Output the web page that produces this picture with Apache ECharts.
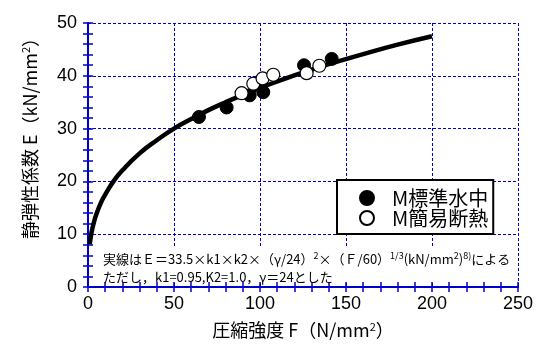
<!DOCTYPE html>
<html>
<head>
<meta charset="utf-8">
<script src="https://cdn.jsdelivr.net/npm/echarts@6/dist/echarts.min.js"></script>
<style>html,body{margin:0;padding:0;background:#fff}#c{width:542px;height:345px}</style>
</head>
<body>
<div id="c"></div>
<script>
// Data
const seriesNames = ['M標準水中', 'M簡易断熱'];
const stdF = [64.5, 80.6, 94.0, 101.9, 125.6, 141.7];
const stdE = [32.2, 34.0, 36.3, 36.9, 42.0, 43.2];
const insF = [89.3, 96.1, 101.5, 107.7, 127.1, 134.5];
const insE = [36.7, 38.5, 39.5, 40.2, 40.5, 41.9];
// solid line E = 33.5*k1*k2*(γ/24)^2*(F/60)^(1/3)
const curveF = [1, 2, 3, 5, 8, 10, 15, 20, 30, 40, 50, 60, 70, 80, 90, 100, 120, 140, 160, 180, 200];
const curveE = [8.1, 10.2, 11.7, 13.9, 16.3, 17.5, 20.1, 22.1, 25.3, 27.8, 30.0, 31.8, 33.5, 35.0, 36.4, 37.7, 40.1, 42.2, 44.1, 45.9, 47.5];
const xTicks = [0, 50, 100, 150, 200, 250];
const yTicks = [0, 10, 20, 30, 40, 50];

const BLUE = '#0000cc';
const JP = "'Noto Sans CJK JP', sans-serif";
const NUM = "'Liberation Sans', sans-serif";
const zip = (a, b) => a.map((v, i) => [v, b[i]]);

function axisCommon() {
  return {
    axisLine: { show: true, lineStyle: { color: BLUE, width: 2 } },
    axisTick: { show: true, inside: true, length: 5, lineStyle: { color: BLUE, width: 1.5 } },
    minorTick: { show: true, splitNumber: 5, length: 5, lineStyle: { color: BLUE, width: 1.5 } }
  };
}
const chart = echarts.init(document.getElementById('c'));
chart.setOption({
  animation: false,
  backgroundColor: '#fff',
  grid: { left: 88, top: 23, right: 24, bottom: 58 },
  xAxis: [
    Object.assign({
      type: 'value', min: xTicks[0], max: xTicks[xTicks.length - 1], interval: 50,
      axisLabel: { color: '#000', fontSize: 18, fontFamily: NUM, margin: 8 },
      splitLine: { show: true, lineStyle: { color: BLUE, type: [3, 2], width: 1 } },
      name: '圧縮強度 F（N/mm{s|2}）', nameLocation: 'middle', nameGap: 34,
      nameTextStyle: { color: '#000', fontSize: 18, fontFamily: JP, rich: { s: { fontSize: 11, fontFamily: JP, padding: [0, 0, 8, 0] } } }
    }, axisCommon()),
    Object.assign({
      type: 'value', min: xTicks[0], max: xTicks[xTicks.length - 1], interval: 50, position: 'top',
      axisLabel: { show: false }, splitLine: { show: false }
    }, axisCommon())
  ],
  yAxis: [
    Object.assign({
      type: 'value', min: yTicks[0], max: yTicks[yTicks.length - 1], interval: 10,
      axisLabel: { color: '#000', fontSize: 18, fontFamily: NUM, margin: 11 },
      splitLine: { show: true, lineStyle: { color: BLUE, type: [3, 2], width: 1 } }
    }, axisCommon()),
    Object.assign({
      type: 'value', min: yTicks[0], max: yTicks[yTicks.length - 1], interval: 10, position: 'right',
      axisLabel: { show: false }, splitLine: { show: false }
    }, axisCommon())
  ],
  legend: {
    data: seriesNames, orient: 'vertical', left: 337, top: 180,
    backgroundColor: '#fff', borderColor: '#000', borderWidth: 2,
    padding: [8, 5, 6, 22], itemGap: 0, itemWidth: 14, itemHeight: 14,
    textStyle: { color: '#000', fontSize: 20, fontFamily: JP, lineHeight: 19, padding: [0, 0, 0, 13] }
  },
  graphic: [
    { type: 'rect', left: 95, top: 247, shape: { width: 421, height: 35 }, style: { fill: '#fff' }, z: 10 },
    {
      type: 'text', left: 103, top: 250, z: 11,
      style: {
        text: '実線はＥ＝33.5×k1×k2×（γ/24）{s|2}×（Ｆ/60）{s|1/3}(kN/mm{s|2}){s|8)}による\nただし，k1=0.95,K2=1.0，γ＝24とした',
        fill: '#000', font: "13px 'Noto Sans CJK JP'", lineHeight: 18,
        rich: { s: { fontSize: 9, fontFamily: JP, padding: [0, 0, 7, 0] } }
      }
    },
    {
      type: 'text', x: 30, y: 134, rotation: Math.PI / 2, z: 11,
      style: {
        text: '静弾性係数 E（kN/mm{s|2}）', fill: '#000', font: "18px 'Noto Sans CJK JP'",
        align: 'center', verticalAlign: 'middle',
        rich: { s: { fontSize: 11, fontFamily: JP, padding: [0, 0, 8, 0] } }
      }
    }
  ],
  series: [
    {
      name: 'curve', type: 'line', data: zip(curveF, curveE), smooth: true, showSymbol: false,
      lineStyle: { color: '#000', width: 4.5 }, z: 2, silent: true
    },
    {
      name: seriesNames[0], type: 'scatter', data: zip(stdF, stdE), symbol: 'circle', symbolSize: 13,
      itemStyle: { color: '#000', borderColor: '#000', borderWidth: 1, opacity: 1 }, z: 3
    },
    {
      name: seriesNames[1], type: 'scatter', data: zip(insF, insE), symbol: 'circle', symbolSize: 13,
      itemStyle: { color: '#fff', borderColor: '#000', borderWidth: 1.2, opacity: 1 }, z: 4
    }
  ]
});
</script>
</body>
</html>
